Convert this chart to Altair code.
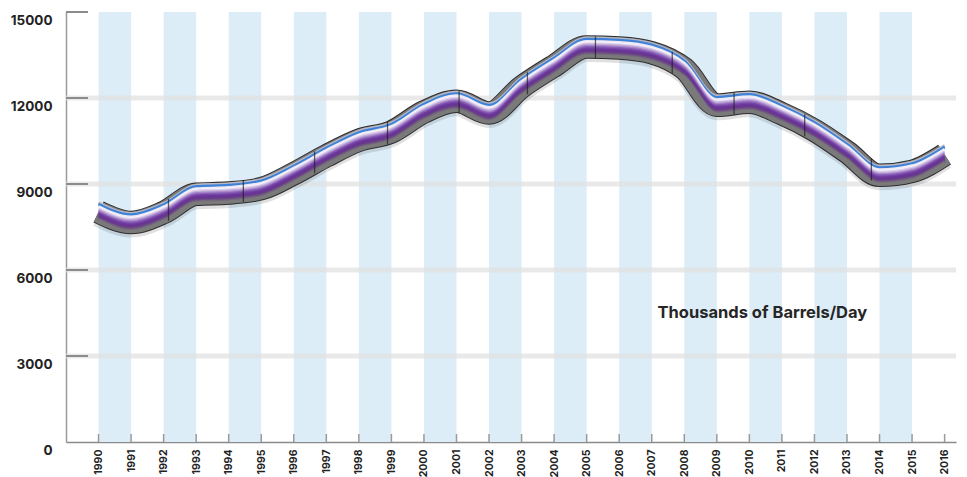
import altair as alt
import pandas as pd
import numpy as np

# ---------------- data ----------------
years = list(range(1990, 2017))
barrels = [8023, 7657, 8005, 8641, 8686, 8836, 9359, 9980, 10524, 10814,
           11512, 11884, 11477, 12384, 13120, 13779, 13744, 13580, 13022, 11750,
           11850, 11451, 10873, 10116, 9302, 9442, 10022]
band_starts = [1990, 1992, 1994, 1996, 1998, 2000, 2002, 2004, 2006, 2008, 2010, 2012, 2014]
band_ends = [1991, 1993, 1995, 1997, 1999, 2001, 2003, 2005, 2007, 2009, 2011, 2013, 2015]
grid_values = [3000, 6000, 9000, 12000]
y_tick_values = [0, 3000, 6000, 9000, 12000, 15000]
inner_tick_values = [3000, 6000, 9000, 12000, 15000]
segment_breaks = [1992.15, 1994.45, 1996.64, 1998.88, 2001.08, 2003.18, 2005.27,
                  2007.63, 2009.53, 2011.7, 2013.75]
label_text = ["Thousands of Barrels/Day"]
label_year = [2010.4]
label_value = [4500]

FONT = "Inter"
W, H = 890, 430

line_df = pd.DataFrame({"year": years, "value": barrels})
band_df = pd.DataFrame({"year": band_starts, "year2": band_ends,
                        "value": [15000] * len(band_starts), "value0": [0] * len(band_starts)})
grid_df = pd.DataFrame({"value": grid_values})
itick_df = pd.DataFrame({"value": inner_tick_values})
xtick_df = pd.DataFrame({"year": years})
break_df = pd.DataFrame({"year": segment_breaks,
                         "value": np.interp(segment_breaks, years, barrels)})
label_df = pd.DataFrame({"year": label_year, "value": label_value, "text": label_text})

xscale = alt.Scale(domain=[1989, 2016.35], nice=False, zero=False)
yscale = alt.Scale(domain=[0, 15000], nice=False)
xaxis = alt.Axis(values=years, format="d", labelAngle=-90, ticks=False, grid=False,
                 domainColor="#8a8a8a", domainWidth=1.5, labelFont=FONT,
                 labelFontWeight="bold", labelFontSize=10.5, labelColor="#222222",
                 labelPadding=7, title=None)
yaxis = alt.Axis(values=y_tick_values, format="d", ticks=False, grid=False,
                 domainColor="#9a9a9a", domainWidth=1.5, labelFont=FONT,
                 labelFontWeight="bold", labelFontSize=13.5, labelColor="#222222",
                 labelPadding=14, labelOffset=8, title=None)

X = alt.X("year:Q", scale=xscale, axis=xaxis)
Y = alt.Y("value:Q", scale=yscale, axis=yaxis)

layers = []

# alternating light blue year bands
layers.append(alt.Chart(band_df).mark_rect(color="#dcedf8").encode(
    x=X, x2="year2:Q", y=Y, y2="value0:Q"))

# horizontal grid bands
layers.append(alt.Chart(grid_df).mark_rule(color="#e0e0e0", strokeWidth=5, opacity=0.7).encode(y=Y))

# inward y ticks
layers.append(alt.Chart(itick_df).mark_rule(color="#8c8c8c", strokeWidth=2).encode(
    y=Y, x=alt.value(0), x2=alt.value(22)))

# inward x ticks
layers.append(alt.Chart(xtick_df).mark_rule(color="#9a9a9a", strokeWidth=1.5).encode(
    x=X, y=alt.value(H), y2=alt.value(H - 8)))

# tube: shadow, outline, body
base = alt.Chart(line_df)
lk = dict(interpolate="monotone", strokeCap="butt", strokeJoin="round")
layers.append(base.mark_line(color="#000000", opacity=0.12, strokeWidth=24, yOffset=3, **lk).encode(x=X, y=Y))
layers.append(base.mark_line(color="#2e2e2e", strokeWidth=23.5, **lk).encode(x=X, y=Y))
layers.append(base.mark_line(color="#7a7a7a", strokeWidth=21.5, **lk).encode(x=X, y=Y))

strips = [
    (-9.4, "#b9b9c6"),
    (-8.0, "#3f82d8"),
    (-7.0, "#3f82d8"),
    (-5.8, "#ece8f4"),
    (-4.6, "#f5f1fa"),
    (-3.4, "#ddd0ea"),
    (-2.2, "#c3abdb"),
    (-1.0, "#a686c9"),
    (0.2, "#8a61b7"),
    (1.4, "#7846a8"),
    (2.6, "#6c379b"),
    (3.8, "#683593"),
    (5.0, "#693a8c"),
    (6.2, "#6d4e84"),
    (7.4, "#74687c"),
    (8.6, "#7a7a7a"),
]
for off, col in strips:
    layers.append(base.mark_line(color=col, strokeWidth=2.4, yOffset=off, **lk).encode(x=X, y=Y))

# segment break marks
layers.append(alt.Chart(break_df).mark_tick(orient="vertical", size=22, thickness=1.3,
                                            color="#1e1e1e").encode(x=X, y=Y))

# annotation
layers.append(alt.Chart(label_df).mark_text(font=FONT, fontSize=16.5, fontWeight="bold",
                                            color="#262626").encode(x=X, y=Y, text="text:N"))

chart = alt.layer(*layers).properties(
    width=W, height=H,
    padding={"left": 2, "top": 3, "right": 0, "bottom": 0},
    background="white",
).configure_view(stroke=None)

chart.save("out.html", embed_options={"renderer": "svg", "actions": False})
